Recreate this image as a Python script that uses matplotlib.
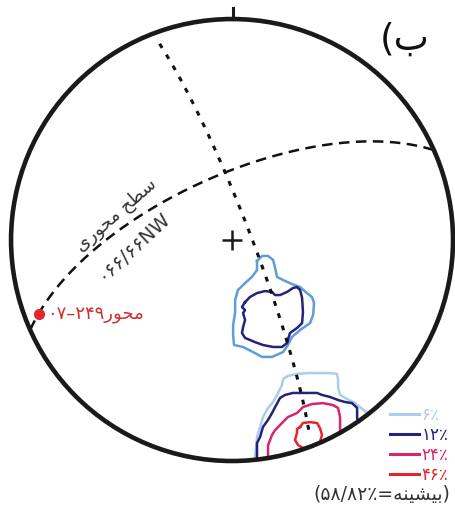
import numpy as np
import matplotlib

matplotlib.use("Agg")
import matplotlib.pyplot as plt
from matplotlib.patches import Circle
from matplotlib.lines import Line2D

# =====================================================================
# Data (equal-area net, lower hemisphere, primitive radius = 1)
# =====================================================================
AXIAL_PLANE = (246.0, 66.0)     # strike (right-hand rule), dip  -> 066/66NW
PROFILE_PLANE = (339.0, 83.0)   # plane normal to the fold axis
FOLD_AXIS = (249.0, 7.0)        # trend, plunge

LEVEL_LABELS = ["\u06f6\u066a", "\u06f1\u06f2\u066a", "\u06f2\u06f4\u066a", "\u06f4\u06f6\u066a"]

# upper cluster
upper_6_x = [0.113, 0.136, 0.163, 0.186, 0.195, 0.204, 0.231, 0.271, 0.308, 0.339, 0.362,
             0.371, 0.367, 0.353, 0.308, 0.271, 0.253, 0.231, 0.181, 0.136, 0.095, 0.050,
             0.009, 0.005, 0.005, 0.014, 0.014, 0.027, 0.059, 0.090, 0.113, 0.113, 0.113]
upper_6_y = [-0.095, -0.072, -0.072, -0.090, -0.127, -0.167, -0.181, -0.199, -0.213, -0.240,
             -0.258, -0.285, -0.339, -0.376, -0.407, -0.439, -0.475, -0.507, -0.529, -0.529,
             -0.507, -0.484, -0.475, -0.430, -0.385, -0.326, -0.271, -0.226, -0.195, -0.167,
             -0.136, -0.104, -0.095]
upper_12_x = [0.059, 0.081, 0.113, 0.149, 0.181, 0.195, 0.217, 0.249, 0.276, 0.294, 0.308,
              0.317, 0.321, 0.317, 0.294, 0.262, 0.249, 0.226, 0.186, 0.140, 0.104, 0.059,
              0.045, 0.050, 0.059, 0.050, 0.059, 0.045, 0.059]
upper_12_y = [-0.281, -0.258, -0.240, -0.231, -0.235, -0.249, -0.249, -0.235, -0.217, -0.213,
              -0.226, -0.262, -0.326, -0.376, -0.398, -0.421, -0.466, -0.484, -0.484, -0.475,
              -0.462, -0.443, -0.421, -0.394, -0.362, -0.330, -0.317, -0.303, -0.281]

# lower cluster (runs past the primitive, clipped there)
lower_6_x = [0.109, 0.104, 0.109, 0.113, 0.127, 0.140, 0.163, 0.186, 0.208, 0.226, 0.231,
             0.253, 0.294, 0.339, 0.385, 0.443, 0.475, 0.480, 0.480, 0.489, 0.520, 0.557,
             0.579, 0.606, 0.661]
lower_6_y = [-1.041, -0.986, -0.937, -0.891, -0.846, -0.801, -0.760, -0.733, -0.692, -0.656,
             -0.629, -0.615, -0.606, -0.602, -0.602, -0.602, -0.606, -0.633, -0.670, -0.701,
             -0.719, -0.738, -0.756, -0.778, -0.814]
lower_12_x = [0.113, 0.113, 0.113, 0.127, 0.140, 0.163, 0.181, 0.195, 0.217, 0.240, 0.276,
              0.321, 0.385, 0.407, 0.443, 0.480, 0.511, 0.543, 0.566, 0.566, 0.570, 0.570]
lower_12_y = [-1.041, -0.973, -0.919, -0.891, -0.846, -0.814, -0.783, -0.756, -0.715, -0.701,
              -0.692, -0.692, -0.692, -0.701, -0.710, -0.724, -0.733, -0.738, -0.760, -0.801,
              -0.837, -0.905]
lower_24_x = [0.163, 0.163, 0.163, 0.181, 0.195, 0.226, 0.253, 0.294, 0.321, 0.362, 0.412,
              0.457, 0.480, 0.489, 0.489, 0.489]
lower_24_y = [-1.041, -0.973, -0.928, -0.882, -0.860, -0.828, -0.801, -0.783, -0.756, -0.742,
              -0.738, -0.747, -0.760, -0.801, -0.851, -0.928]
lower_46_x = [0.308, 0.321, 0.353, 0.385, 0.398, 0.407, 0.398, 0.385, 0.353, 0.321, 0.299,
              0.285, 0.294, 0.294, 0.308]
lower_46_y = [-0.846, -0.828, -0.824, -0.828, -0.851, -0.882, -0.914, -0.928, -0.941, -0.941,
              -0.928, -0.905, -0.873, -0.855, -0.846]

# Persian strings written in visual (left-to-right, pre-joined) order
PANEL_LABEL = "(\u0628"
PLANE_NAME = "\u06cc\ufead\ufeee\ufea4\ufee3 \ufea2\ufec4\ufeb3"
PLANE_VALUE = "\u06f0\u06f6\u06f6/\u06f6\u06f6NW"
AXIS_LABEL = "\u06f0\u06f7\u2013\u06f2\u06f4\u06f9\ufead\ufeee\ufea4\ufee3"
MAX_LABEL = "(\u06f5\u06f8/\u06f8\u06f2\u066a=\ufeea\ufee8\ufef4\ufeb8\ufef4\ufe91)"

C6_UP = "#5d9dd8"
C6 = "#a9cdeb"
C12 = "#25227a"
C24 = "#d5276c"
C46 = "#e2262b"
TXT = "#333333"


def project(trend, plunge):
    r = np.sqrt(2.0) * np.sin(np.radians(90.0 - plunge) / 2.0)
    t = np.radians(trend)
    return r * np.sin(t), r * np.cos(t)


def great_circle(strike, dip, a0=0.0, a1=180.0, n=300):
    s = np.radians(strike)
    dd = s + np.pi / 2
    d = np.radians(dip)
    a = np.radians(np.linspace(a0, a1, n))
    east = np.cos(a) * np.sin(s) + np.sin(a) * np.cos(d) * np.sin(dd)
    north = np.cos(a) * np.cos(s) + np.sin(a) * np.cos(d) * np.cos(dd)
    down = np.sin(a) * np.sin(d)
    plunge = np.degrees(np.arcsin(np.clip(down, -1, 1)))
    trend = np.degrees(np.arctan2(east, north))
    return project(trend, plunge)


plt.rcParams["font.family"] = ["DejaVu Sans"]
fig = plt.figure(figsize=(4.55, 5.11), dpi=100)
ax = fig.add_axes([0, 0, 1, 1])
ax.set_xlim(-1.050, 1.009)
ax.set_ylim(-1.226, 1.086)
ax.set_aspect("equal")
ax.axis("off")

clip = Circle((0, 0), 1.0, transform=ax.transData)

contours = [
    (upper_6_x, upper_6_y, C6_UP),
    (upper_12_x, upper_12_y, C12),
    (lower_6_x, lower_6_y, C6),
    (lower_12_x, lower_12_y, C12),
    (lower_24_x, lower_24_y, C24),
    (lower_46_x, lower_46_y, C46),
]
for xs, ys, col in contours:
    (ln,) = ax.plot(xs, ys, color=col, lw=1.8, solid_joinstyle="round")
    ln.set_clip_path(clip)

# axial plane (dashed) and profile plane (dotted)
gx, gy = great_circle(*AXIAL_PLANE)
ax.plot(gx, gy, color="#111111", lw=1.8, linestyle=(0, (4.2, 2.6)), dash_capstyle="butt")
px, py = great_circle(*PROFILE_PLANE, a0=6, a1=175)
ax.plot(px, py, color="#111111", lw=2.2, linestyle=(0, (1.6, 2.6)), dash_capstyle="butt")

# primitive, north tick, centre
ax.add_patch(Circle((0, 0), 1.0, fill=False, ec="#1a1a1a", lw=3.3, zorder=5))
ax.plot([0.005, 0.005], [1.0, 1.052], color="#1a1a1a", lw=2.2, zorder=5)
ax.plot([0], [0], marker="+", ms=15, mew=1.8, color="#1a1a1a")

# fold axis
fx, fy = project(*FOLD_AXIS)
ax.plot([fx], [fy], marker="o", ms=7, color=C46, zorder=6)
ax.annotate(AXIS_LABEL, (fx, fy), xytext=(6, -0.5), textcoords="offset points",
            ha="left", va="center", color="#d2302c", fontsize=13)

ax.text(-0.527, 0.113, PLANE_NAME, rotation=41, ha="center", va="center",
        color=TXT, fontsize=13, rotation_mode="anchor")
ax.text(-0.446, -0.025, PLANE_VALUE, rotation=43, ha="center", va="center",
        color=TXT, fontsize=14, rotation_mode="anchor")

ax.text(0.782, 0.905, PANEL_LABEL, ha="center", va="center", fontsize=27, color="#111111")

leg_handles = [Line2D([], [], color=c, lw=2.2) for c in (C6, C12, C24, C46)]
ax.legend(leg_handles, LEVEL_LABELS, loc="upper left", bbox_to_anchor=(0.857, 0.206),
          frameon=False, fontsize=12, handlelength=1.75, handletextpad=0.15,
          labelspacing=0.13, borderpad=0, borderaxespad=0, labelcolor="linecolor")
ax.text(0.8396, 0.0313, MAX_LABEL, transform=ax.transAxes, ha="center", va="center",
        fontsize=13.5, color=TXT)

fig.savefig("out.png", dpi=100, facecolor="white")
